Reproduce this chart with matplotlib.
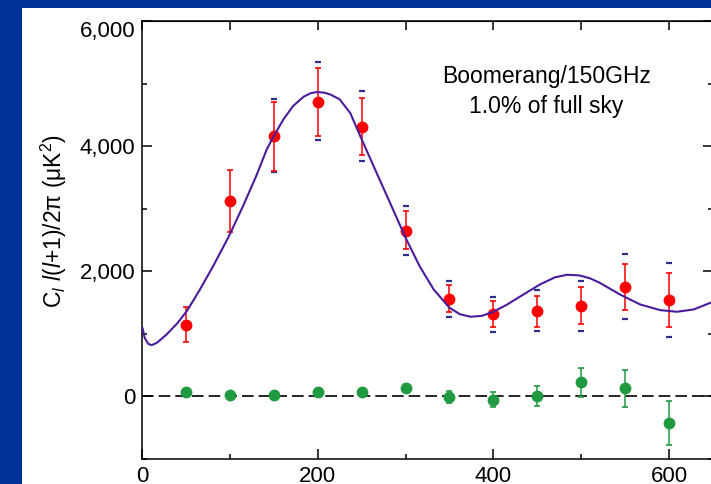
import numpy as np
import matplotlib.pyplot as plt
from matplotlib.patches import Rectangle

plt.rcParams['font.family'] = ['Liberation Sans', 'DejaVu Sans']
plt.rcParams['mathtext.fontset'] = 'custom'
plt.rcParams['mathtext.rm'] = 'Liberation Sans'
plt.rcParams['mathtext.it'] = 'Liberation Sans:italic'

# Boomerang 150GHz band powers
ell = [50, 100, 150, 200, 250, 300, 350, 400, 450, 500, 550, 600]
cl = [1140, 3115, 4160, 4712, 4312, 2648, 1558, 1310, 1360, 1440, 1752, 1538]
cl_hi = [1420, 3616, 4710, 5254, 4774, 2960, 1776, 1523, 1600, 1744, 2120, 1965]
cl_lo = [864, 2627, 3608, 4165, 3853, 2347, 1345, 1102, 1105, 1158, 1382, 1104]

# outer (calibration + beam) error caps
ell_cal = [150, 200, 250, 300, 350, 400, 450, 500, 550, 600]
cal_hi = [4750, 5339, 4885, 3035, 1840, 1592, 1691, 1840, 2268, 2130]
cal_lo = [3578, 4098, 3760, 2260, 1272, 1030, 1035, 1040, 1227, 950]

# difference map (null test)
null = [64, 22, 22, 59, 70, 128, -16, -58, 0, 219, 123, -432]
null_err = [20, 20, 20, 20, 30, 60, 93, 120, 160, 235, 296, 352]

# best-fit model curve
model_ell = [0, 1, 3, 7, 11, 17, 28, 40, 51, 58, 66, 81, 99, 115, 130, 142,
             150, 161, 172, 184, 192, 199, 207, 214, 225, 237, 250, 267, 284,
             300, 316, 332, 350, 362, 374, 387, 400, 415, 430, 453, 470, 484,
             498, 510, 521, 544, 567, 590, 609, 628, 650]
model_cl = [1110, 1067, 934, 838, 816, 854, 987, 1163, 1360, 1520, 1707, 2080,
            2560, 3040, 3520, 3947, 4160, 4427, 4640, 4790, 4845, 4864, 4855,
            4827, 4747, 4530, 4110, 3574, 3040, 2534, 2080, 1707, 1414, 1310,
            1270, 1285, 1350, 1460, 1590, 1787, 1900, 1942, 1931, 1885, 1814,
            1627, 1467, 1376, 1350, 1387, 1510]

fig = plt.figure(figsize=(7.11, 4.84), dpi=100, facecolor='#003399')
fig.add_artist(Rectangle((22 / 711, 0), 1, 1 - 8 / 484, transform=fig.transFigure,
                         facecolor='white', edgecolor='none', zorder=-1))
ax = fig.add_axes([142 / 711, 25.3 / 484, 571 / 711, 437.7 / 484])
ax.set_facecolor('white')

ell = np.array(ell)
cl = np.array(cl)
ell_cal = np.array(ell_cal)
cal_mid = (np.array(cal_hi) + np.array(cal_lo)) / 2

ax.axhline(0, color='black', lw=1.2, ls=(0, (7, 3)), zorder=1)

# outer caps only (no vertical line)
ax.errorbar(ell_cal, cal_mid, yerr=[cal_mid - np.array(cal_lo), np.array(cal_hi) - cal_mid],
            fmt='none', ecolor='#2e2e8f', elinewidth=0, capsize=2.3, capthick=1.6, zorder=2)
ax.errorbar(ell, cl, yerr=[cl - np.array(cl_lo), np.array(cl_hi) - cl],
            fmt='o', color='#ff0000', ms=7.5, elinewidth=1.1, capsize=2.1, capthick=1.2, zorder=3)
ax.errorbar(ell, null, yerr=null_err, fmt='o', color='#1f9a40', ms=7.5,
            elinewidth=1.1, capsize=2.1, capthick=1.2, zorder=3)
ax.plot(model_ell, model_cl, color='#4b1c9c', lw=1.5, zorder=4)

ax.set_xlim(0, 650)
ax.set_ylim(-1000, 6000)
ax.set_xticks([0, 200, 400, 600])
ax.set_xticks([100, 300, 500], minor=True)
ax.set_yticks([0, 2000, 4000, 6000])
ax.set_yticks([-1000, 1000, 3000, 5000], minor=True)
ax.set_yticklabels(['0', '2,000', '4,000', '6,000'])
ax.tick_params(which='both', direction='in', width=1.1, labelsize=16, top=False, right=True)
ax.tick_params(which='major', length=7.5, pad=5)
ax.tick_params(which='minor', length=3.5)
ax.yaxis.get_major_ticks()[-1].label1.set_verticalalignment('top')
for s in ax.spines.values():
    s.set_linewidth(1.1)

top = ax.secondary_xaxis('top')
top.set_xticks(np.arange(0, 651, 100))
top.tick_params(direction='in', length=6.5, width=1.1, labeltop=False)

ax.set_ylabel('C$_{l}$ $l$($l$+1)/2π (μK$^{2}$)', fontsize=16.5)
ax.yaxis.set_label_coords(-0.128, 0.544)

ax.text(460, 5014, 'Boomerang/150GHz', fontsize=16.5, ha='center', va='baseline')
ax.text(460, 4534, '1.0% of full sky', fontsize=16.5, ha='center', va='baseline')

fig.savefig('out.png', dpi=100, facecolor=fig.get_facecolor())
